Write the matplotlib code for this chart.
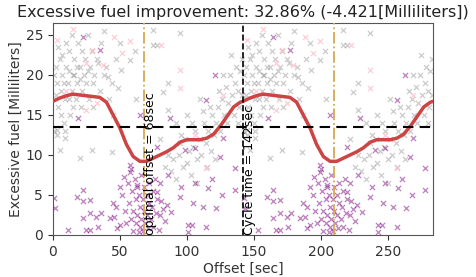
import numpy as np
import matplotlib
matplotlib.use("Agg")
import matplotlib.pyplot as plt

cycle_time = 142
optimal_offset = 68
mean_fuel = 13.5
improvement_pct = 32.86
improvement_ml = -4.421

# smoothed curve over one cycle (sec, ml)
curve_x = [0, 5, 10, 15, 20, 25, 30, 35, 40, 45, 50, 55, 60, 65, 70, 75, 80, 85,
           90, 95, 100, 105, 110, 115, 120, 125, 130, 135, 140]
curve_y = [16.7, 17.1, 17.4, 17.6, 17.5, 17.4, 17.3, 17.2, 16.6, 15.0, 13.4, 11.3,
           9.8, 9.2, 9.2, 9.6, 10.0, 10.4, 10.9, 11.6, 11.9, 11.9, 11.9, 12.1, 12.6,
           13.6, 14.8, 16.0, 16.6]

# samples over one cycle
gray_x = [2, 3, 4, 5, 6, 7, 8, 9, 10, 11, 12, 13, 14, 15, 16, 17, 18, 19, 20, 21, 22,
          23, 24, 25, 26, 27, 28, 29, 30, 31, 33, 35, 36, 38, 40, 42, 44, 1, 3, 6, 2,
          8, 12, 15, 18, 22, 10, 4, 14, 30, 34, 26, 20, 16, 12, 7, 45, 47, 50, 38, 1,
          9, 2.8, 9, 5, 29, 20, 44, 74.6, 95, 74.6, 78, 86, 82, 86, 61, 51, 48.5, 62,
          57.5, 41,
          88, 90, 92, 94, 95, 97, 99, 100, 102, 103, 105, 106, 108, 110, 111, 113, 114,
          116, 118, 119, 120, 122, 123, 125, 126, 128, 129, 130, 131, 132, 134, 135,
          136, 137, 138, 139, 140, 141, 117, 124, 112, 127, 133, 104, 96, 86, 84, 100,
          108, 115, 121, 138, 141, 92, 80, 110]
gray_y = [21, 19, 16, 22, 18, 20, 14, 17, 21, 19, 23, 15, 18, 20, 22, 17, 19, 24, 21,
          16, 18, 20, 22, 19, 25, 17, 21, 23, 19, 20, 22, 18, 24, 20, 21, 17, 19, 13,
          12.5, 15, 17.5, 19, 17, 16, 21, 23, 24, 23.5, 25, 16, 21.5, 20.5, 19.5, 20,
          20.5, 22.5, 15, 22, 24, 25.5, 20, 13, 13.1, 12.1, 10.6, 10.6, 9.6, 10.4, 25.6,
          25.2, 23.7, 23.7, 19, 17.9, 15.6, 23, 20.6, 18.4, 17, 21.9, 19.75,
          8, 9.5, 7, 10, 11.5, 8.5, 12, 9, 10.5, 7.5, 11, 13, 9.5, 12, 10, 14, 11.5, 13,
          10.5, 15, 12.5, 14, 16, 13, 17, 15, 18.5, 14, 16.5, 20, 17.5, 15, 19, 21, 18,
          16, 20.5, 22, 16, 18, 15.5, 20, 22.5, 14, 12.5, 10, 8.5, 15, 6.5, 8.5, 9.5,
          14, 17.5, 14, 12, 17]

purple_x = [57.5, 57.5, 50, 62.5, 22.6, 17.7, 22.6, 27.6, 45, 47.5, 1.5, 27.6, 36, 22.6,
            32.6, 42.5, 11, 25, 28, 33.5, 50, 0.5,
            52, 54, 55, 56, 57, 58, 59, 60, 60, 61, 62, 62, 63, 63, 64, 64, 65, 65, 66,
            66, 67, 67, 68, 68, 69, 70, 70, 71, 72, 72, 73, 74, 75, 75, 76, 77, 78, 79,
            80, 82, 84, 48, 46, 53, 58,
            127, 78, 124.6, 98.5, 106, 86, 96, 106, 115.7, 126, 136, 94.8, 104.5, 112,
            122, 88.6, 101, 104, 114.7, 136, 78, 81, 85, 80, 101, 119,
            22.6, 35, 18.7, 65, 121, 114.7, 87.3]
purple_y = [8.75, 7.9, 6, 6.25, 5.6, 4.8, 4.2, 4.4, 4, 3.5, 3.4, 2.7, 2.7, 2.1, 2.3, 2.1,
            0.6, 0.6, 0.6, 1, 1.25, 4.6,
            5, 3, 1.5, 6.5, 4, 2, 5.5, 0.5, 3, 7, 4.5, 1.5, 6, 2.5, 0.3, 5, 3.5, 1, 7.5,
            2, 4.5, 0.5, 6, 3, 1.5, 5, 2.5, 0.8, 4, 6.5, 2, 3.5, 5.5, 1, 7, 2.8, 4.5, 0.6,
            6.5, 3.3, 1.8, 0.8, 2.3, 7.2, 8.3,
            12.1, 11, 9.8, 10.6, 10.9, 7.5, 6, 6.5, 5.9, 5, 5.6, 4.8, 4, 3.5, 3.4, 2.9,
            1.25, 1.3, 1, 8.4, 5.4, 4.2, 3.75, 2.5, 0.4, 7,
            24.8, 23.1, 14.6, 15, 20, 16.9, 14.6]

pink_x = [15, 2.8, 29, 46, 57.5, 37.5, 25, 52, 25, 81, 95, 95, 127, 106, 114.7, 10, 33]
pink_y = [25.8, 24.4, 23.1, 24.8, 24.2, 21.25, 21.5, 22.7, 15.6, 23.7, 20.6, 18.4, 17.5,
          12.5, 8.4, 18, 16.5]

xs_curve = np.concatenate([curve_x, np.array(curve_x) + cycle_time, [2 * cycle_time]])
ys_curve = np.concatenate([curve_y, curve_y, [curve_y[0]]])

fig = plt.figure(figsize=(4.76, 2.77), dpi=100)
ax = fig.add_axes([0.111, 0.152, 0.799, 0.765])

for xs, ys, c, a in [(gray_x, gray_y, 'gray', 0.4),
                     (pink_x, pink_y, 'pink', 0.8),
                     (purple_x, purple_y, 'purple', 0.5)]:
    xs = np.array(xs)
    ax.scatter(np.concatenate([xs, xs + cycle_time]), np.concatenate([ys, ys]),
               marker='x', s=14, linewidths=0.9, color=c, alpha=a, zorder=2)

ax.plot(xs_curve, ys_curve, color='#cc4444', lw=2.5, zorder=4)
ax.axhline(mean_fuel, color='black', ls='--', lw=1.5, dashes=(5, 3), zorder=5)
ax.axvline(cycle_time, color='black', ls='--', lw=1.2, zorder=5)
for off in [optimal_offset, optimal_offset + cycle_time]:
    ax.axvline(off, color='#d4aa50', ls='-.', lw=1.3, zorder=3)

ax.text(optimal_offset, 0, f'optimal offset = {optimal_offset}sec', rotation=90,
        ha='left', va='bottom', fontsize=9, zorder=6)
ax.text(cycle_time, 0, f'Cycle time = {cycle_time}sec', rotation=90,
        ha='left', va='bottom', fontsize=9, zorder=6)

ax.set_xlim(0, 2 * cycle_time)
ax.set_ylim(0, 26.5)
ax.set_xticks([0, 50, 100, 150, 200, 250])
ax.set_yticks([0, 5, 10, 15, 20, 25])
ax.tick_params(labelsize=10, colors='#333333')
for s in ax.spines.values():
    s.set_color('#555555')
ax.set_xlabel('Offset [sec]', fontsize=10, color='#333333', labelpad=2)
ax.set_ylabel('Excessive fuel [Milliliters]', fontsize=10, color='#333333', labelpad=2)
ax.set_title(f'Excessive fuel improvement: {improvement_pct}% ({improvement_ml}[Milliliters])',
             fontsize=11.5, color='#222222', pad=4)

fig.savefig('out.png', dpi=100)
